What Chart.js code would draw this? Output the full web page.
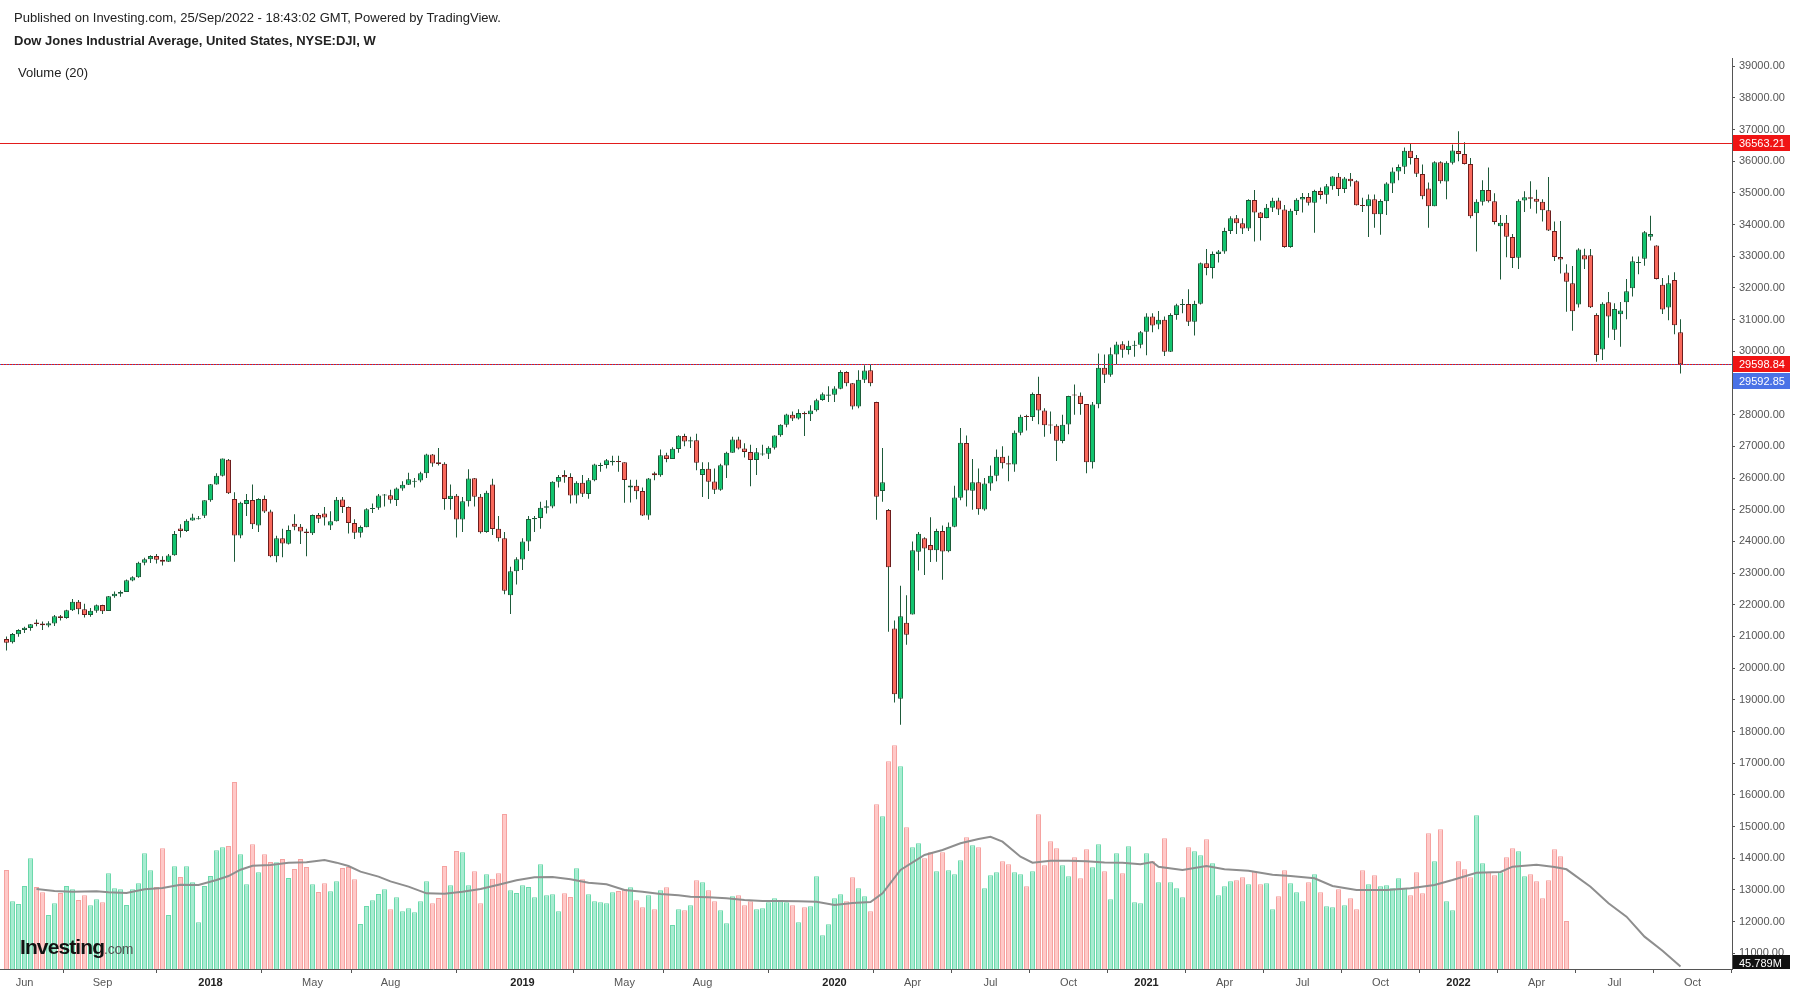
<!DOCTYPE html>
<html>
<head>
<meta charset="utf-8">
<title>Dow Jones Industrial Average, W</title>
<script src="https://cdn.jsdelivr.net/npm/chart.js@4.4.1/dist/chart.umd.min.js"></script>
<style>
  html, body { margin: 0; padding: 0; background: #fff; overflow: hidden; }
  #wrap { position: relative; width: 1796px; height: 996px; font-family: 'Liberation Sans', Arial, sans-serif; }
  #chart { position: absolute; left: 0; top: 0; }
  .txt { position: absolute; white-space: nowrap; color: #222; font-size: 13px; line-height: 16px; }
  #logo { position: absolute; left: 20px; top: 936px; font-size: 21px; line-height: 22px; font-weight: bold; color: #111; letter-spacing: -0.9px; }
  #logo span { font-size: 14px; font-weight: normal; color: #555; letter-spacing: -0.3px; }
</style>
</head>
<body>
<div id="wrap">
  <canvas id="chart" width="1796" height="996"></canvas>
  <div class="txt" style="left:14px;top:10px">Published on Investing.com, 25/Sep/2022 - 18:43:02 GMT, Powered by TradingView.</div>
  <div class="txt" style="left:14px;top:33px;font-weight:bold">Dow Jones Industrial Average, United States, NYSE:DJI, W</div>
  <div class="txt" style="left:18px;top:65px">Volume (20)</div>
  <div id="logo">Investing<span>.com</span></div>
</div>
<script>
// weekly bars, index 0 = week of 15 May 2017, last = week of 19 Sep 2022
const tickWeeks = [3, 16, 34, 51, 64, 86, 103, 116, 138, 151, 164, 177, 190, 203, 216, 229, 242, 255, 268, 281];
const tickLabels = ['Jun', 'Sep', '2018', 'May', 'Aug', '2019', 'May', 'Aug', '2020', 'Apr', 'Jul', 'Oct', '2021', 'Apr', 'Jul', 'Oct', '2022', 'Apr', 'Jul', 'Oct'];
const priceTicks = [11000, 12000, 13000, 14000, 15000, 16000, 17000, 18000, 19000, 20000, 21000, 22000, 23000, 24000, 25000,
  26000, 27000, 28000, 29000, 30000, 31000, 32000, 33000, 34000, 35000, 36000, 37000, 38000, 39000];

const openP = [
  20920, 20814, 21070, 21200, 21270, 21440, 21409, 21349, 21410, 21640,
  21580, 21830, 22092, 21858, 21675, 21810, 21990, 21800, 22270, 22350,
  22405, 22770, 22870, 23330, 23440, 23540, 23420, 23360, 23560, 24410,
  24330, 24660, 24700, 24810, 25300, 25800, 26070, 26580, 25338, 24190,
  25180, 25310, 24500, 25336, 24946, 23530, 24100, 23930, 24560, 24460,
  24310, 24260, 24830, 24880, 24500, 24640, 25320, 25090, 24580, 24270,
  24450, 25020, 25060, 25450, 25460, 25310, 25670, 25790, 25880, 25920,
  26150, 26740, 26500, 26450, 25340, 25444, 24690, 25270, 25990, 25410,
  24300, 25800, 24400, 24100, 22300, 23060, 23430, 24000, 24700, 24740,
  25060, 25100, 25880, 26100, 26030, 25450, 25850, 25500, 25930, 26380,
  26410, 26500, 26540, 26500, 25700, 25760, 25590, 24820, 26150, 26090,
  26720, 26600, 26920, 27330, 27150, 27190, 26100, 26290, 25890, 25630,
  26400, 26800, 27220, 26930, 26820, 26570, 26740, 26770, 26960, 27350,
  27680, 28000, 27880, 28050, 28010, 28140, 28460, 28600, 28630, 28820,
  29350, 28990, 28260, 29100, 29400, 28400, 25590, 24990, 21250, 19030,
  21430, 21690, 23675, 24100, 23890, 23720, 24330, 23690, 24460, 25380,
  27110, 25600, 25870, 25010, 25830, 26070, 26670, 26470, 26430, 27430,
  27950, 27930, 28650, 28130, 27670, 27650, 27170, 27690, 28620, 28600,
  28340, 26500, 28330, 29480, 29260, 29900, 30220, 30040, 30180, 30210,
  30620, 31100, 30850, 31000, 29990, 31150, 31460, 31490, 30930, 31500,
  32780, 32630, 33070, 33150, 33800, 34200, 34040, 33880, 34780, 34380,
  34210, 34530, 34760, 34480, 33290, 34430, 34790, 34870, 34690, 35060,
  34940, 35210, 35510, 35120, 35450, 35370, 34600, 34580, 34800, 34330,
  34740, 35300, 35680, 35830, 36330, 36100, 35600, 35140, 34580, 35970,
  35360, 35950, 36320, 36230, 35910, 34360, 34720, 35090, 34740, 33950,
  34060, 33610, 32950, 34760, 34860, 34820, 34720, 34450, 33800, 32980,
  32490, 32150, 31480, 33030, 33030, 31150, 30060, 31550, 30680, 31170,
  31550, 31990, 32785, 32920, 33620, 33340, 32100, 31380, 32252, 30600
];
const highP = [
  21000, 21112, 21225, 21305, 21392, 21536, 21470, 21480, 21681, 21681,
  21843, 22179, 22150, 22036, 21900, 22010, 22000, 22280, 22420, 22450,
  22800, 22900, 23360, 23485, 23560, 23600, 23530, 23600, 24330, 24540,
  24700, 24876, 24800, 25300, 25810, 26150, 26617, 26600, 25550, 25250,
  25500, 25800, 25360, 25450, 25000, 24180, 24400, 24500, 24860, 24550,
  24400, 24850, 24900, 25090, 24950, 25400, 25400, 25100, 24700, 24500,
  25050, 25200, 25500, 25500, 25630, 25700, 25900, 26170, 26000, 26200,
  26770, 26760, 26950, 26500, 25800, 25500, 25400, 26280, 26000, 25500,
  25600, 25980, 24800, 24300, 23200, 23500, 24100, 24800, 24800, 25250,
  25300, 25900, 26100, 26250, 26150, 25900, 26100, 26000, 26450, 26480,
  26600, 26700, 26700, 26500, 25950, 25950, 25700, 26000, 26200, 26900,
  26800, 26970, 27350, 27400, 27300, 27400, 26500, 26500, 26300, 26450,
  26830, 27300, 27300, 27100, 27050, 26950, 27050, 27000, 27350, 27700,
  28030, 28100, 28170, 28100, 28300, 28500, 28700, 28900, 28900, 29400,
  29370, 29000, 29400, 29560, 29570, 28410, 26950, 25020, 21500, 22600,
  22300, 24000, 24300, 24130, 24760, 24400, 24500, 24600, 25760, 27580,
  27340, 26600, 26300, 26000, 26400, 26900, 27000, 26700, 27500, 28000,
  28000, 28700, 29200, 28200, 28100, 27700, 28000, 28600, 28950, 28700,
  28340, 28400, 29930, 29900, 30120, 30300, 30320, 30330, 30330, 30640,
  31200, 31200, 31270, 31100, 31200, 31500, 31650, 31960, 31600, 32800,
  33230, 33150, 33200, 33900, 34260, 34300, 34200, 34800, 35090, 34400,
  34650, 34850, 34850, 34620, 34500, 34830, 35000, 35000, 35100, 35170,
  35280, 35530, 35630, 35500, 35630, 35400, 34850, 34950, 34950, 34800,
  35340, 35800, 35900, 36430, 36570, 36200, 35900, 35330, 36000, 36000,
  36000, 36530, 36950, 36600, 36100, 34800, 35400, 35800, 34990, 34300,
  34300, 33700, 34800, 35050, 35370, 35100, 34800, 35500, 34100, 34117,
  32745, 32690, 33250, 33240, 33230, 31200, 31550, 31870, 31520, 31560,
  32280, 32990, 32990, 33800, 34281, 33350, 32313, 32400, 32500, 31010
];
const lowP = [
  20553, 20780, 20990, 21110, 21180, 21320, 21200, 21290, 21330, 21500,
  21560, 21800, 21700, 21600, 21620, 21750, 21710, 21800, 22220, 22250,
  22400, 22740, 22850, 23250, 23320, 23300, 23240, 23350, 23550, 24120,
  24300, 24650, 24690, 24740, 25250, 25790, 26050, 25500, 23360, 24100,
  24800, 24390, 24300, 24900, 23500, 23340, 23500, 23900, 24350, 23920,
  23530, 24200, 24580, 24500, 24360, 24630, 24900, 24250, 24080, 24120,
  24450, 24900, 25000, 25100, 25200, 25120, 25600, 25780, 25700, 25870,
  26000, 26360, 26400, 25000, 25000, 24120, 24300, 25100, 25100, 24250,
  24270, 24200, 24000, 22330, 21710, 22640, 23100, 23700, 24300, 24400,
  24880, 25050, 25700, 25850, 25200, 25200, 25400, 25350, 25900, 26200,
  26300, 26400, 26200, 25220, 25230, 25330, 24800, 24680, 25930, 26040,
  26500, 26600, 26800, 27000, 26950, 26250, 25400, 25340, 25500, 25600,
  26000, 26800, 26900, 26650, 25740, 26100, 26700, 26600, 26900, 27300,
  27600, 27800, 27850, 27330, 27800, 28100, 28440, 28400, 28400, 28800,
  28900, 28160, 28200, 29000, 28900, 24681, 25250, 21150, 18917, 18213,
  20735, 21690, 23080, 22940, 23350, 23360, 22790, 23660, 24450, 25300,
  25100, 25000, 24840, 24970, 25600, 25900, 26300, 25900, 26200, 27350,
  27500, 27800, 27700, 27300, 27400, 26540, 27100, 27380, 28000, 28000,
  26150, 26300, 28200, 29000, 29200, 29600, 29800, 29900, 29830, 30100,
  29880, 30600, 30700, 29850, 29980, 31000, 31200, 30800, 30500, 31480,
  32400, 32300, 32800, 33080, 33700, 33700, 33700, 33800, 33470, 33500,
  34200, 34400, 34300, 33270, 33270, 34300, 34380, 34600, 33740, 34800,
  34660, 35100, 34900, 35000, 35200, 34600, 34400, 33610, 33900, 33680,
  34300, 35000, 35400, 35600, 35900, 35500, 34800, 33900, 34580, 35300,
  34800, 35900, 36000, 35900, 34200, 33150, 34600, 34700, 34000, 32270,
  32970, 32630, 32600, 34400, 34500, 34350, 34100, 33800, 32850, 32460,
  31250, 30650, 31380, 32600, 31370, 29670, 29730, 30430, 30360, 30146,
  31010, 31730, 32430, 32700, 33500, 32270, 31180, 30980, 30540, 29300
];
const closeP = [
  20804, 21080, 21206, 21271, 21384, 21395, 21350, 21414, 21638, 21580,
  21830, 22092, 21858, 21675, 21814, 21988, 21798, 22268, 22350, 22405,
  22773, 22871, 23329, 23434, 23539, 23422, 23358, 23558, 24231, 24329,
  24651, 24754, 24719, 25296, 25803, 26072, 26616, 25521, 24190, 25219,
  25310, 24538, 25336, 24946, 23533, 24103, 23933, 24360, 24463, 24311,
  24263, 24831, 24715, 24753, 24635, 25317, 25090, 24581, 24271, 24456,
  25019, 25058, 25451, 25463, 25313, 25669, 25790, 25965, 25917, 26155,
  26744, 26458, 26447, 25340, 25444, 24688, 25271, 25989, 25413, 24286,
  25538, 24389, 24101, 22445, 23062, 23433, 23996, 24706, 24737, 25064,
  25106, 25883, 26031, 26026, 25450, 25849, 25502, 25929, 26425, 26412,
  26559, 26543, 26505, 25942, 25764, 25586, 24815, 25984, 26090, 26719,
  26600, 26922, 27332, 27154, 27192, 26485, 26287, 25886, 25629, 26403,
  26797, 27220, 26935, 26820, 26573, 26817, 26770, 26958, 27347, 27681,
  28005, 27876, 28051, 28015, 28135, 28455, 28645, 28635, 28824, 29348,
  28990, 28256, 29103, 29398, 28992, 25409, 25864, 23186, 19174, 21637,
  21053, 23719, 24242, 23775, 23724, 24331, 23685, 24465, 25383, 27111,
  25605, 25871, 25016, 25827, 26075, 26672, 26470, 26428, 27433, 27931,
  27930, 28654, 28133, 27666, 27657, 27174, 27683, 28587, 28606, 28336,
  26502, 28323, 29479, 29263, 29910, 30218, 30046, 30179, 30200, 30606,
  31098, 30814, 30997, 29983, 31148, 31458, 31494, 30932, 31496, 32779,
  32628, 33072, 33153, 33801, 34200, 34043, 33875, 34778, 34382, 34208,
  34529, 34756, 34480, 33290, 34434, 34786, 34870, 34687, 35062, 34935,
  35209, 35515, 35120, 35455, 35369, 34608, 34584, 34798, 34326, 34746,
  35295, 35677, 35820, 36328, 36100, 35602, 34899, 34580, 35971, 35365,
  35951, 36338, 36231, 35912, 34265, 34725, 35089, 34738, 34079, 34059,
  33615, 32945, 34755, 34861, 34818, 34721, 34451, 33811, 32977, 32899,
  32197, 31262, 33213, 32900, 31393, 29888, 31501, 31097, 31338, 31289,
  31899, 32845, 32803, 33761, 33707, 32283, 31318, 32152, 30822, 29592.85
];

// weekly volume in millions (no data after the week of 9 May 2022)
const volume = [
  1889, 1291, 1240, 1584, 2112, 1565, 1463, 1030, 1253, 1450,
  1584, 1520, 1317, 1406, 1215, 1329, 1272, 1825, 1539, 1520,
  1221, 1520, 1634, 2207, 1882, 1565, 2302, 1030, 1959, 1755,
  1959, 1653, 890, 1584, 1774, 2264, 2321, 2347, 3568, 2188,
  1615, 2378, 1844, 2188, 2041, 2035, 2099, 1736, 1908, 2099,
  1946, 1615, 1469, 1634, 1482, 1672, 1927, 1946, 1711, 859,
  1202, 1310, 1431, 1520, 1138, 1367, 1100, 1157, 1081, 1291,
  1672, 1253, 1355, 1965, 1596, 2251, 2226, 1596, 1863, 1253,
  1806, 1723, 1825, 2957, 1501, 1450, 1596, 1565, 1367, 1997,
  1406, 1425, 1100, 1444, 1374, 1921, 1711, 1425, 1291, 1272,
  1253, 1463, 1488, 1526, 1558, 1310, 1177, 1406, 1138, 1501,
  1558, 840, 1138, 1119, 1215, 1692, 1653, 1501, 1291, 1119,
  871, 1386, 1406, 1215, 1291, 1138, 1157, 1272, 1348, 1310,
  1272, 1215, 890, 1177, 1196, 1768, 642, 852, 1348, 1425,
  1291, 1749, 1539, 1386, 1100, 3142, 2913, 3962, 4268, 3867,
  2703, 2321, 2398, 2112, 2226, 1863, 2226, 1882, 1806, 2073,
  2512, 2360, 2321, 1539, 1787, 1844, 2054, 1997, 1844, 1806,
  1577, 1863, 2951, 1978, 2436, 2302, 1978, 1768, 2131, 1730,
  2283, 1940, 2378, 1863, 1329, 2207, 1825, 2340, 1272, 1253,
  2207, 2054, 1653, 2493, 1653, 1539, 1367, 2321, 2245, 2169,
  2474, 2016, 1406, 1577, 1672, 1692, 1749, 1615, 1863, 1615,
  1634, 1138, 1386, 1882, 1634, 1463, 1291, 1653, 1806, 1463,
  1196, 1177, 1520, 1215, 1348, 1138, 1882, 1615, 1787, 1577,
  1596, 1539, 1730, 1539, 1406, 1844, 1444, 2589, 2054, 2665,
  1291, 1119, 2054, 1902, 1749, 2932, 2016, 1844, 1787, 1844,
  2131, 2302, 2245, 1768, 1806, 1672, 1348, 1692, 2283, 2150,
  916
];

// Volume (20) moving average at these weeks
const maWeeks = [5, 8, 11, 15, 17, 20, 23, 26, 29, 32, 35, 37, 39, 41, 44, 47, 50, 53, 55, 57,
  59, 62, 64, 67, 70, 73, 76, 79, 82, 85, 88, 91, 94, 97, 100, 103, 106, 109, 112, 114,
  117, 120, 123, 126, 129, 132, 135, 138, 141, 144, 146, 149, 153, 156, 159, 162, 164, 166, 169, 171,
  174, 177, 180, 183, 186, 189, 191, 192, 196, 200, 203, 207, 211, 214, 218, 221, 225, 230, 234, 238,
  241, 245, 249, 251, 255, 258, 260, 264, 267, 270, 273, 276, 279];
const maValues = [1526, 1488, 1475, 1482, 1463, 1450, 1520, 1545, 1609, 1603, 1698, 1774, 1895, 1971, 1984, 2029, 2035, 2080, 2029, 1965,
  1857, 1762, 1672, 1571, 1444, 1437, 1475, 1526, 1609, 1692, 1749, 1755, 1711, 1647, 1615, 1507, 1475, 1431, 1406, 1380,
  1367, 1348, 1316, 1297, 1297, 1291, 1285, 1221, 1259, 1278, 1444, 1889, 2175, 2270, 2398, 2480, 2524, 2429, 2143, 2029,
  2067, 2067, 2055, 2030, 2029, 1997, 2042, 1952, 1889, 1965, 1902, 1876, 1800, 1774, 1730, 1584, 1507, 1507, 1539, 1603,
  1698, 1838, 1851, 1952, 1990, 1946, 1902, 1571, 1253, 998, 617, 350, 45.789];

// horizontal levels and their price-scale tags
const levelValues = [36563.21, 29598.84, 29592.85];

const FONT = "'Liberation Sans', Arial, sans-serif";
const isUp = closeP.map((c, i) => c >= openP[i]);

const overlays = {
  id: 'overlays',
  afterDatasetsDraw(chart) {
    const { ctx, chartArea: a, scales: { y } } = chart;
    ctx.save();
    ctx.beginPath();
    ctx.rect(a.left, a.top, a.right - a.left, a.bottom - a.top);
    ctx.clip();
    ctx.lineWidth = 1;
    // red lines
    [levelValues[0], levelValues[1]].forEach(v => {
      const py = Math.round(y.getPixelForValue(v)) + 0.5;
      ctx.strokeStyle = '#e21b1b';
      ctx.beginPath();
      ctx.moveTo(a.left, py);
      ctx.lineTo(a.right, py);
      ctx.stroke();
    });
    // blue dotted close line
    const pb = Math.round(y.getPixelForValue(levelValues[2])) + 0.5;
    ctx.strokeStyle = '#3f63dd';
    ctx.setLineDash([1, 2]);
    ctx.beginPath();
    ctx.moveTo(a.left, pb);
    ctx.lineTo(a.right, pb);
    ctx.stroke();
    ctx.restore();
  },
  afterDraw(chart) {
    const { ctx, chartArea: a, scales: { y, yv } } = chart;
    const tag = (txt, cy, bg) => {
      ctx.fillStyle = bg;
      ctx.fillRect(a.right + 1, Math.round(cy - 8), 57, 16);
      ctx.fillStyle = '#fff';
      ctx.font = '11px ' + FONT;
      ctx.textBaseline = 'middle';
      ctx.textAlign = 'left';
      ctx.fillText(txt, a.right + 7, Math.round(cy) + 0.5);
    };
    ctx.save();
    tag(levelValues[0].toFixed(2), y.getPixelForValue(levelValues[0]), '#f01414');
    const pr = y.getPixelForValue(levelValues[1]);
    tag(levelValues[1].toFixed(2), pr, '#f01414');
    tag(levelValues[2].toFixed(2), pr + 17, '#4a72e6');
    // last moving-average value, cut by the bottom of the pane
    const lastMa = maValues[maValues.length - 1];
    ctx.beginPath();
    ctx.rect(a.right + 1, a.top, 64, a.bottom - a.top);
    ctx.clip();
    const pm = yv.getPixelForValue(lastMa);
    ctx.fillStyle = '#111';
    ctx.fillRect(a.right + 1, Math.round(pm - 12), 57, 16);
    ctx.fillStyle = '#fff';
    ctx.font = '11px ' + FONT;
    ctx.textBaseline = 'middle';
    ctx.fillText(lastMa.toFixed(3) + 'M', a.right + 7, Math.round(pm - 4) + 0.5);
    ctx.restore();
  }
};

const ctx = document.getElementById('chart');
new Chart(ctx, {
  type: 'bar',
  data: {
    datasets: [
      {
        label: 'Body',
        data: closeP.map((c, i) => ({ x: i, y: [openP[i], c] })),
        yAxisID: 'y',
        backgroundColor: isUp.map(u => u ? '#12c46f' : '#f9695c'),
        borderColor: isUp.map(u => u ? '#1c5b38' : '#6d1d1d'),
        borderWidth: 1,
        borderSkipped: false,
        barThickness: 5,
        minBarLength: 1,
        inflateAmount: 0,
        grouped: false,
        order: 1
      },
      {
        label: 'Wick',
        data: closeP.map((c, i) => ({ x: i, y: [lowP[i], highP[i]] })),
        yAxisID: 'y',
        backgroundColor: '#1e5a3a',
        borderWidth: 0,
        barThickness: 1,
        inflateAmount: 0,
        grouped: false,
        order: 2
      },
      {
        type: 'line',
        label: 'Volume MA',
        data: maWeeks.map((w, k) => ({ x: w, y: maValues[k] })),
        yAxisID: 'yv',
        borderColor: '#8e8e8e',
        borderWidth: 2,
        pointRadius: 0,
        tension: 0,
        order: 3
      },
      {
        label: 'Volume',
        data: volume.map((v, i) => ({ x: i, y: v })),
        yAxisID: 'yv',
        backgroundColor: volume.map((v, i) => isUp[i] ? '#a7ecd1' : '#ffc9c8'),
        borderColor: volume.map((v, i) => isUp[i] ? '#6cd9ac' : '#f5a2a0'),
        borderWidth: 1,
        barThickness: 5,
        inflateAmount: 0,
        grouped: false,
        order: 4
      }
    ]
  },
  options: {
    responsive: false,
    animation: false,
    events: [],
    layout: { padding: { top: 58, left: 0, right: 0, bottom: 0 } },
    plugins: {
      legend: { display: false },
      tooltip: { enabled: false },
      title: { display: false }
    },
    scales: {
      x: {
        type: 'linear',
        min: -1.0833,
        max: 287.583,
        offset: false,
        grid: { drawOnChartArea: false, drawTicks: true, tickLength: 4, tickColor: '#555' },
        border: { display: true, color: '#555' },
        afterBuildTicks: s => { s.ticks = tickWeeks.map(v => ({ value: v })); },
        afterFit: s => { s.height = 27; },
        ticks: {
          autoSkip: false,
          maxRotation: 0,
          padding: 3,
          callback: v => tickLabels[tickWeeks.indexOf(v)],
          color: c => /^\d{4}$/.test(tickLabels[c.index]) ? '#222' : '#555',
          font: c => ({ family: FONT, size: 11, weight: /^\d{4}$/.test(tickLabels[c.index]) ? 'bold' : 'normal' })
        }
      },
      y: {
        position: 'right',
        min: 10503,
        max: 39259,
        grid: { drawOnChartArea: false, drawTicks: true, tickLength: 3, tickColor: '#555' },
        border: { display: true, color: '#555' },
        afterBuildTicks: s => { s.ticks = priceTicks.map(v => ({ value: v })); },
        afterFit: s => { s.width = 64; },
        ticks: {
          autoSkip: false,
          padding: 4,
          color: '#555',
          font: { family: FONT, size: 11 },
          callback: v => Number(v).toFixed(2)
        }
      },
      yv: {
        display: false,
        min: 0,
        max: 17382
      }
    }
  },
  plugins: [overlays]
});
</script>
</body>
</html>
